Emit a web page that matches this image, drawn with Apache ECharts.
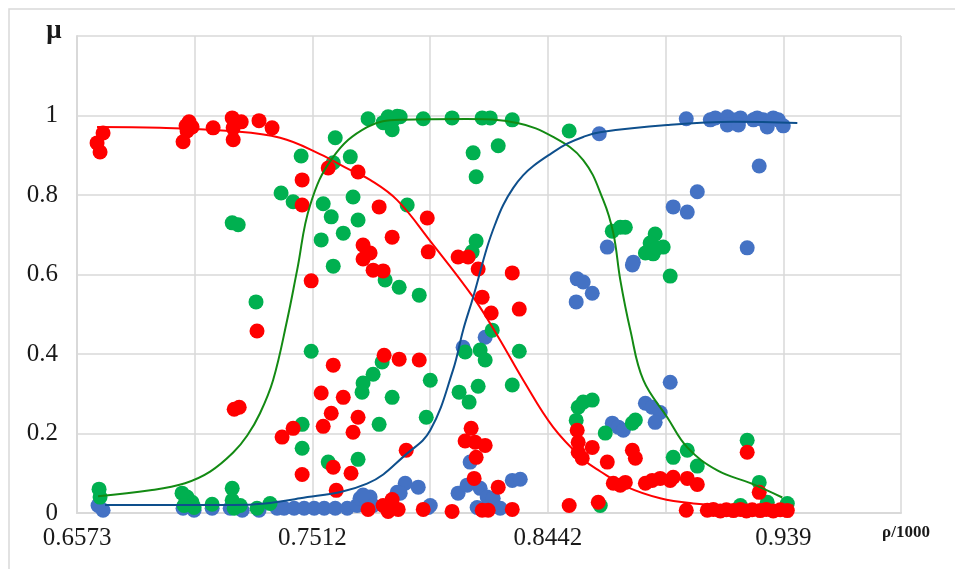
<!DOCTYPE html>
<html>
<head>
<meta charset="utf-8">
<script src="https://cdn.jsdelivr.net/npm/echarts@6/dist/echarts.min.js"></script>
<style>
html,body{margin:0;padding:0;background:#fff;}
#chart{width:955px;height:569px;}
</style>
</head>
<body>
<div id="chart"></div>
<script>
// ---- axis ticks ----
const X_MIN = 0.6573;
const X_STEP = 0.04695;
const X_MAX = 0.98595;
const xTickLabels = ['0.6573', '', '0.7512', '', '0.8442', '', '0.939', ''];
const yTickLabels = ['0', '0.2', '0.4', '0.6', '0.8', '1', ''];

// ---- red points (rho, mu) ----
const redRho = [0.6653,0.6665,0.6677,0.6996,0.7012,0.7020,0.7032,0.7008,0.7116,0.7192,0.7196,0.7228,0.7196,0.7299,0.7351,
  0.7471,0.7471,0.7291,0.7507,0.7200,0.7220,0.7391,0.7435,0.7471,0.7575,0.7694,0.7778,0.7970,0.7830,0.7714,0.7742,0.7714,
  0.7974,0.8093,0.8133,0.8173,0.7754,0.7794,0.8309,0.8189,0.8225,0.8337,0.7798,0.7858,0.7938,0.7595,0.7547,0.7635,0.7587,
  0.7555,0.7694,0.7674,0.7595,0.7666,0.7607,0.7886,0.8145,0.8121,0.8161,0.8201,0.8165,0.8157,0.8253,0.7734,0.7794,0.7830,
  0.7834,0.7854,0.7814,0.7954,0.8069,0.8189,0.8213,0.8309,0.8536,0.8652,0.8568,0.8572,0.8572,0.8588,0.8628,0.8688,0.8788,
  0.8800,0.8712,0.8740,0.8760,0.8840,0.8867,0.8899,0.8939,0.8951,0.9007,0.9047,0.9003,0.9246,0.9294,
  0.9087,0.9111,0.9139,0.9163,0.9191,0.9219,0.9243,0.9266,0.9298,0.9322,0.9350,0.9378,0.9406];
const redMu = [0.931,0.908,0.956,0.934,0.961,0.984,0.971,0.974,0.969,0.994,0.969,0.984,0.939,0.987,0.969,
  0.838,0.775,0.458,0.584,0.261,0.266,0.191,0.213,0.097,0.868,0.858,0.770,0.742,0.694,0.674,0.654,0.639,
  0.657,0.644,0.644,0.614,0.611,0.609,0.604,0.543,0.503,0.513,0.397,0.387,0.385,0.372,0.302,0.291,0.251,
  0.218,0.241,0.203,0.115,0.100,0.057,0.158,0.213,0.181,0.178,0.170,0.140,0.087,0.065,0.009,0.019,0.034,
  0.014,0.009,0.004,0.009,0.004,0.007,0.007,0.009,0.019,0.027,0.208,0.178,0.153,0.138,0.165,0.128,0.158,
  0.138,0.075,0.070,0.077,0.075,0.082,0.087,0.082,0.090,0.087,0.072,0.007,0.153,0.052,
  0.007,0.009,0.005,0.008,0.006,0.009,0.005,0.008,0.006,0.009,0.005,0.008,0.006];

// ---- green points ----
const greenRho = [0.6661,0.6665,0.6992,0.7012,0.7032,0.7040,0.7000,0.7112,0.7192,0.7192,0.7200,0.7224,0.7291,0.7343,
  0.7471,0.7471,0.7387,0.7435,0.7192,0.7216,0.7287,0.7507,0.7467,0.7603,0.7663,0.7595,0.7674,0.7734,0.7794,0.7814,
  0.7830,0.7850,0.7862,0.7834,0.7954,0.8069,0.8189,0.8221,0.8309,0.8153,0.8253,0.8165,0.8536,0.7555,0.7890,0.7587,
  0.7694,0.7635,0.7547,0.7595,0.7802,0.7858,0.7938,0.8165,0.8149,0.8121,0.8181,0.8201,0.8337,0.8229,0.7790,0.7754,
  0.7982,0.7714,0.7710,0.7830,0.8097,0.8137,0.8173,0.8309,0.7966,0.7778,0.7575,0.7694,0.8572,0.8592,0.8628,0.8564,
  0.8680,0.8788,0.8800,0.8951,0.9007,0.9047,0.9246,0.9294,0.8660,0.9219,0.9326,0.9406,0.8708,0.8740,0.8760,0.8879,
  0.8859,0.8840,0.8871,0.8911,0.8887,0.8939];
const greenMu = [0.060,0.040,0.050,0.040,0.027,0.014,0.019,0.022,0.062,0.032,0.012,0.019,0.012,0.024,
  0.223,0.163,0.805,0.783,0.730,0.725,0.531,0.407,0.898,0.944,0.896,0.881,0.795,0.992,0.982,0.997,
  0.964,0.998,0.997,0.989,0.992,0.994,0.994,0.994,0.989,0.906,0.924,0.846,0.961,0.778,0.775,0.745,
  0.737,0.704,0.687,0.621,0.586,0.568,0.548,0.684,0.657,0.405,0.410,0.385,0.407,0.460,0.380,0.349,
  0.334,0.327,0.304,0.291,0.304,0.279,0.319,0.322,0.241,0.223,0.128,0.135,0.266,0.279,0.284,0.233,
  0.201,0.226,0.234,0.140,0.158,0.118,0.183,0.077,0.019,0.019,0.027,0.024,0.709,0.719,0.719,0.702,
  0.679,0.654,0.652,0.669,0.667,0.596];

// ---- blue points ----
const blueRho = [0.6657,0.6677,0.6996,0.7040,0.7112,0.7184,0.7232,0.7299,0.7371,0.7399,0.7439,0.7479,0.7519,0.7559,
  0.7603,0.7651,0.7690,0.7702,0.7742,0.7754,0.7714,0.7882,0.7934,0.7850,0.7862,0.7974,0.7982,0.8093,0.8141,0.8129,
  0.8181,0.8209,0.8233,0.8169,0.8261,0.8309,0.8341,0.8113,0.8201,0.8688,0.8568,0.8592,0.8628,0.8564,0.8656,
  0.9003,0.9099,0.9119,0.9167,0.9187,0.9207,0.9219,0.9271,0.9286,0.9310,0.9326,0.9350,0.9370,0.9390,0.9167,0.9211,
  0.9294,0.9047,0.8951,0.9007,0.9246,0.8792,0.8788,0.8939,0.8840,0.8867,0.8899,0.8879,0.8708,0.8732,0.8752];
const blueMu = [0.019,0.007,0.012,0.007,0.012,0.012,0.007,0.007,0.012,0.012,0.012,0.012,0.012,0.012,
  0.012,0.012,0.019,0.037,0.040,0.019,0.045,0.075,0.065,0.052,0.050,0.014,0.019,0.050,0.128,0.070,
  0.062,0.040,0.037,0.014,0.012,0.082,0.085,0.417,0.442,0.669,0.589,0.581,0.553,0.531,0.954,
  0.992,0.989,0.994,0.997,0.989,0.984,0.994,0.989,0.994,0.989,0.971,0.994,0.989,0.974,0.976,0.976,
  0.873,0.808,0.770,0.757,0.667,0.631,0.624,0.329,0.276,0.266,0.253,0.228,0.226,0.216,0.208];

// ---- fitted curves ----
const redCurveRho = [0.6653,0.6904,0.7184,0.7383,0.7542,0.7662,0.7742,0.7850,0.7982,0.8153,0.8253,0.8353,0.8472,0.8592,0.8659,0.8768,0.8899,0.9031,0.9167,0.9430];
const redCurveMu  = [0.971,0.969,0.961,0.944,0.903,0.863,0.838,0.787,0.684,0.543,0.443,0.334,0.216,0.135,0.105,0.065,0.037,0.024,0.019,0.019];
const greenCurveRho = [0.6657,0.6865,0.7004,0.7104,0.7196,0.7252,0.7303,0.7355,0.7411,0.7451,0.7503,0.7595,0.7730,0.7862,0.8129,0.8329,0.8472,0.8592,0.8672,0.8712,0.8740,0.8780,0.8832,0.8927,0.9007,0.9127,0.9259,0.9386];
const greenCurveMu  = [0.042,0.057,0.075,0.104,0.152,0.195,0.251,0.334,0.485,0.611,0.775,0.896,0.971,0.989,0.991,0.981,0.946,0.888,0.787,0.704,0.586,0.460,0.334,0.241,0.165,0.107,0.075,0.039];
const blueCurveRho = [0.6685,0.7196,0.7463,0.7730,0.7890,0.7982,0.8073,0.8113,0.8153,0.8209,0.8241,0.8273,0.8313,0.8353,0.8393,0.8461,0.8528,0.8592,0.8659,0.8927,0.9193,0.9446];
const blueCurveMu  = [0.020,0.020,0.037,0.074,0.150,0.208,0.360,0.460,0.543,0.669,0.727,0.775,0.818,0.850,0.873,0.903,0.929,0.946,0.958,0.976,0.984,0.981];

const zip = (a, b) => a.map((v, i) => [v, b[i]]);

const chart = echarts.init(document.getElementById('chart'), null, {renderer: 'canvas'});
const gridColor = '#d9d9d9';
const labelFont = {fontFamily: 'Liberation Serif', fontSize: 25, color: '#1a1a1a'};

chart.setOption({
  animation: false,
  backgroundColor: '#ffffff',
  grid: {left: 77, right: 54, top: 36, bottom: 56, containLabel: false},
  xAxis: {
    type: 'value', min: X_MIN, max: X_MAX, interval: X_STEP,
    axisLine: {show: true, lineStyle: {color: gridColor, width: 2}},
    axisTick: {show: false},
    splitLine: {show: true, lineStyle: {color: gridColor, width: 1.5}},
    axisLabel: Object.assign({margin: 13, showMaxLabel: true, showMinLabel: true,
      formatter: v => xTickLabels[Math.round((v - X_MIN) / X_STEP)] || ''}, labelFont)
  },
  yAxis: {
    type: 'value', min: 0, max: 1.2, interval: 0.2,
    axisLine: {show: true, lineStyle: {color: gridColor, width: 2}},
    axisTick: {show: false},
    splitLine: {show: true, lineStyle: {color: gridColor, width: 1.5}},
    axisLabel: Object.assign({margin: 19,
      formatter: v => yTickLabels[Math.round(v / 0.2)] || ''}, labelFont)
  },
  graphic: [
    {type: 'rect', shape: {x: 9, y: 9, width: 980, height: 600}, style: {fill: 'none', stroke: gridColor, lineWidth: 1.5}, silent: true, z: -10},
    {type: 'text', x: 54, y: 31, style: {text: 'μ', font: 'bold 27px "Liberation Serif"', fill: '#1a1a1a', align: 'center', verticalAlign: 'middle'}},
    {type: 'text', x: 906, y: 533, style: {text: 'ρ/1000', font: 'bold 17px "Liberation Serif"', fill: '#1a1a1a', align: 'center', verticalAlign: 'middle'}}
  ],
  series: [
    {type: 'scatter', data: zip(blueRho, blueMu), symbolSize: 15, itemStyle: {color: '#4472C4', opacity: 1}, z: 2},
    {type: 'scatter', data: zip(greenRho, greenMu), symbolSize: 15, itemStyle: {color: '#00B050', opacity: 1}, z: 3},
    {type: 'scatter', data: zip(redRho, redMu), symbolSize: 15, itemStyle: {color: '#FF0000', opacity: 1}, z: 4},
    {type: 'line', data: zip(redCurveRho, redCurveMu), smooth: 0.4, showSymbol: false, lineStyle: {color: '#FF0000', width: 2}, z: 5},
    {type: 'line', data: zip(greenCurveRho, greenCurveMu), smooth: 0.4, showSymbol: false, lineStyle: {color: '#138A13', width: 2}, z: 5},
    {type: 'line', data: zip(blueCurveRho, blueCurveMu), smooth: 0.4, showSymbol: false, lineStyle: {color: '#0E4F8C', width: 2}, z: 5}
  ]
});
</script>
</body>
</html>
